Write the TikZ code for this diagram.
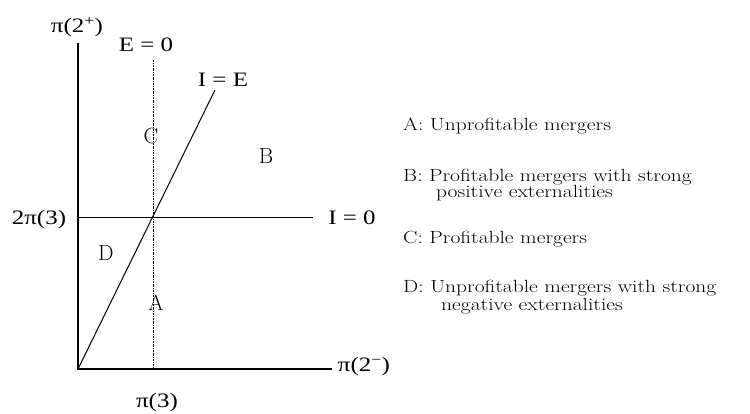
\documentclass[tikz,border=0pt]{standalone}
\usepackage{fontspec}
\newfontfamily\tms{Liberation Serif}
\newcommand\vsq[1]{\scalebox{1}[0.82]{#1}}
\begin{document}
\begin{tikzpicture}[x=1pt,y=-1pt,
  axis/.style={line width=1.3pt},
  thinline/.style={line width=1pt},
  dotline/.style={line width=0.6pt, dash pattern=on 2pt off 1pt on 0.6pt off 1pt},
  lbl/.style={font=\tms\fontsize{25}{28}\selectfont, inner sep=0pt},
  reg/.style={font=\fontsize{22}{26}\selectfont, inner sep=0pt},
  leg/.style={font=\fontsize{21.5}{24}\selectfont, inner sep=0pt, anchor=base west}]
\useasboundingbox (0,0) rectangle (750,414);
% axes and lines
\coordinate (O) at (78,369);
\coordinate (Ytop) at (78,43);
\coordinate (Xend) at (332,369);
\coordinate (Dtop) at (153,60);
\coordinate (Dbot) at (153,369);
\coordinate (H0) at (78,218);
\coordinate (H1) at (313,218);
\coordinate (Etop) at (215,90);
\draw[axis] (Ytop) -- (O) -- (Xend);
\draw[thinline] (H0) -- (H1);
\draw[dotline] (Dtop) -- (Dbot);
\draw[thinline] (O) -- (Etop);
% axis labels
\node[lbl] (piplus) at (77,27) {\vsq{π(2\textsuperscript{+})}};
\node[lbl] (e0) at (146,45) {\vsq{E = 0}};
\node[lbl] (ie) at (223,80) {\vsq{I = E}};
\node[lbl] (twopi) at (39,220) {\vsq{2π(3)}};
\node[lbl] (i0) at (352,218) {\vsq{I = 0}};
\node[lbl] (piminus) at (364,367) {\vsq{π(2\textsuperscript{−})}};
\node[lbl] (pi3) at (157,403) {\vsq{π(3)}};
% region letters
\node[reg] (rc) at (151,136) {C};
\node[reg] (rb) at (266,156) {B};
\node[reg] (rd) at (106,253) {D};
\node[reg] (ra) at (156,303) {A};
% legend
\node[leg] (la) at (403,131) {\vsq{A: Unprofitable mergers}};
\node[leg] (lb) at (403,182) {\vsq{B: Profitable mergers with strong}};
\node[leg] (lb2) at (436,198) {\vsq{positive externalities}};
\node[leg] (lc) at (403,244) {\vsq{C: Profitable mergers}};
\node[leg] (ld) at (403,293) {\vsq{D: Unprofitable mergers with strong}};
\node[leg] (ld2) at (441,310) {\vsq{negative externalities}};
\end{tikzpicture}
\end{document}
